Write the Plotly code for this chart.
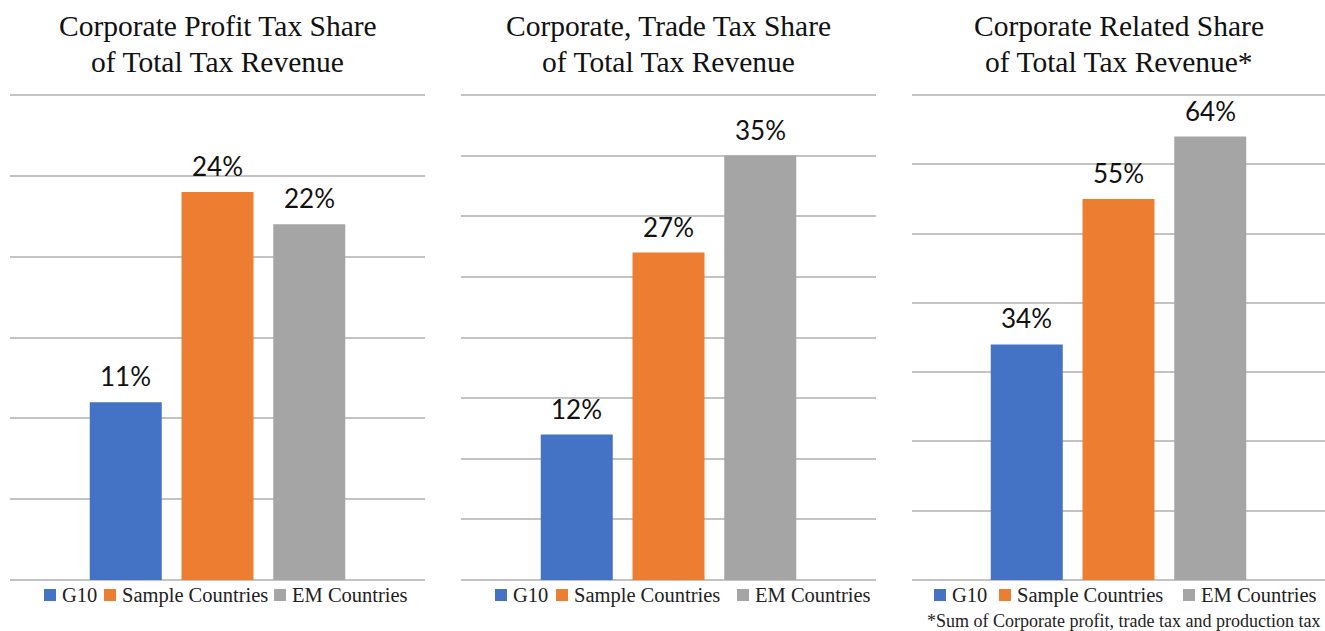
import plotly.graph_objects as go

# Series and panel data
series_names = ["G10", "Sample Countries", "EM Countries"]
series_colors = ["#4472C4", "#ED7D31", "#A5A5A5"]

panel_titles = [
    ["Corporate Profit Tax Share", "of Total Tax Revenue"],
    ["Corporate, Trade Tax Share", "of Total Tax Revenue"],
    ["Corporate Related Share", "of Total Tax Revenue*"],
]
profit_tax = [11, 24, 22]
corp_trade_tax = [12, 27, 35]
corp_related = [34, 55, 64]
panel_values = [profit_tax, corp_trade_tax, corp_related]

axis_max = [30, 40, 70]
axis_step = [5, 5, 10]

footnote = "*Sum of Corporate profit, trade tax and production tax"

# Pixel layout of the page
W, H = 1325, 631
panel_px = [(10, 425), (461, 876), (912, 1325)]
y_bottom, y_top = 580, 95
headroom = 1.01            # extra axis room so the top gridline is drawn
bar_pitch = 91.75          # px between neighbouring bar centres
bar_px = 72                # bar width in px
legend_swatch_x = [[44, 104, 274], [495, 556, 737], [934, 999, 1183]]
legend_y = 595
title_line_y = [26, 62]

SERIF = "Liberation Serif, Times New Roman, serif"
SANS = "Lato, Carlito, Open Sans, sans-serif"

fig = go.Figure()
layout = dict(
    width=W, height=H,
    margin=dict(l=0, r=0, t=0, b=0),
    paper_bgcolor="white", plot_bgcolor="white",
    showlegend=False,
    barmode="overlay",
)

annotations = []
shapes = []
plot_top = y_bottom - (y_bottom - y_top) * headroom
for p, vals in enumerate(panel_values):
    xa = "x" if p == 0 else f"x{p+1}"
    ya = "y" if p == 0 else f"y{p+1}"
    x0, x1 = panel_px[p]
    half_span = (x1 - x0) / bar_pitch / 2
    for s, name in enumerate(series_names):
        fig.add_trace(go.Bar(
            x=[name], y=[vals[s]], name=name,
            width=bar_px / bar_pitch,
            marker=dict(color=series_colors[s], line=dict(width=0)),
            xaxis=xa, yaxis=ya,
        ))
        annotations.append(dict(
            text=f"{vals[s]}%", x=name, y=vals[s], xref=xa, yref=ya,
            xanchor="center", yanchor="middle", yshift=26, showarrow=False,
            font=dict(family=SANS, size=26, color="#111111"),
        ))
    key_x = "xaxis" if p == 0 else f"xaxis{p+1}"
    key_y = "yaxis" if p == 0 else f"yaxis{p+1}"
    layout[key_x] = dict(
        domain=[x0 / W, x1 / W], type="category",
        categoryorder="array", categoryarray=series_names,
        range=[1 - half_span, 1 + half_span],
        showticklabels=False, showgrid=False,
        zeroline=False, showline=False, ticks="", fixedrange=True,
        anchor=ya,
    )
    layout[key_y] = dict(
        domain=[(H - y_bottom) / H, (H - plot_top) / H],
        range=[0, axis_max[p] * headroom], dtick=axis_step[p], tick0=0,
        showticklabels=False, ticks="", showline=False,
        showgrid=True, gridcolor="#c3c3c3", gridwidth=1.5,
        zeroline=True, zerolinecolor="#c3c3c3", zerolinewidth=1.5,
        anchor=xa, fixedrange=True,
    )
    cx = (x0 + x1) / 2 / W
    for line, ty in zip(panel_titles[p], title_line_y):
        annotations.append(dict(
            text=line, x=cx, y=(H - ty) / H, xref="paper", yref="paper",
            xanchor="center", yanchor="middle", showarrow=False,
            font=dict(family=SERIF, size=29.5, color="#111111"),
        ))
    # legend: colour swatch followed by series name
    for s, name in enumerate(series_names):
        sx = legend_swatch_x[p][s]
        shapes.append(dict(
            type="rect", xref="paper", yref="paper",
            x0=sx / W, x1=(sx + 12) / W,
            y0=(H - legend_y - 6) / H, y1=(H - legend_y + 6) / H,
            fillcolor=series_colors[s], line=dict(width=0),
        ))
        annotations.append(dict(
            text=name, x=(sx + 16) / W, y=(H - legend_y) / H,
            xref="paper", yref="paper", xanchor="left", yanchor="middle",
            showarrow=False,
            font=dict(family=SERIF, size=20.5, color="#222222"),
        ))

annotations.append(dict(
    text=footnote, x=1322 / W, y=(H - 621) / H, xref="paper", yref="paper",
    xanchor="right", yanchor="middle", showarrow=False,
    font=dict(family=SERIF, size=18, color="#222222"),
))

layout["annotations"] = annotations
layout["shapes"] = shapes
fig.update_layout(**layout)
fig.write_html("out.html")
